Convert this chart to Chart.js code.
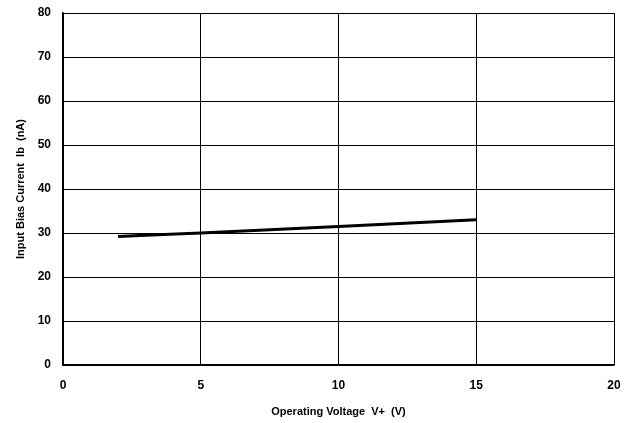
<!DOCTYPE html>
<html>
<head>
<meta charset="utf-8">
<script src="https://cdn.jsdelivr.net/npm/chart.js@4/dist/chart.umd.min.js"></script>
<style>
  html, body { margin: 0; padding: 0; background: #fff; }
  #wrap { width: 630px; height: 423px; }
</style>
</head>
<body>
<div id="wrap"><canvas id="biasChart" width="630" height="423"></canvas></div>
<script>
// operating voltage V+ (V) and input bias current Ib (nA)
const voltage = [2, 3, 5, 10, 15];
const biasCurrent = [29.2, 29.5, 30.0, 31.5, 33.0];

const xTicks = [0, 5, 10, 15, 20];
const yTicks = [0, 10, 20, 30, 40, 50, 60, 70, 80];

const points = voltage.map((v, i) => ({ x: v, y: biasCurrent[i] }));

const ctx = document.getElementById('biasChart').getContext('2d');
new Chart(ctx, {
    type: 'scatter',
    data: {
        datasets: [{
            data: points,
            showLine: true,
            borderColor: '#000',
            borderWidth: 3,
            pointRadius: 0,
            tension: 0
        }]
    },
    options: {
        responsive: false,
        animation: false,
        layout: { padding: { top: 13, right: 16, left: 0, bottom: 0 } },
        plugins: { legend: { display: false }, tooltip: { enabled: false } },
        scales: {
            x: {
                type: 'linear',
                min: 0, max: 20,
                afterBuildTicks: axis => { axis.ticks = xTicks.map(v => ({ value: v })); },
                afterFit: axis => {
                    axis.height = 58;
                    axis.paddingLeft = 0;
                    axis.paddingRight = 0;
                },
                grid: { color: '#000', lineWidth: 1, drawTicks: false },
                border: { color: '#000', width: 1.5 },
                ticks: { color: '#000', padding: 13, font: { family: 'Arial, Liberation Sans', size: 12, weight: 'bold' } },
                title: {
                    display: true,
                    text: 'Operating Voltage  V+  (V)',
                    color: '#000',
                    padding: { top: 3 },
                    font: { family: 'Arial, Liberation Sans', size: 11, weight: 'bold' }
                }
            },
            y: {
                min: 0, max: 80,
                afterBuildTicks: axis => { axis.ticks = yTicks.map(v => ({ value: v })); },
                afterFit: axis => {
                    axis.width = 63;
                    axis.paddingTop = 0;
                    axis.paddingBottom = 0;
                },
                grid: { color: '#000', lineWidth: 1, drawTicks: false },
                border: { color: '#000', width: 1.5 },
                ticks: { color: '#000', padding: 12, font: { family: 'Arial, Liberation Sans', size: 12, weight: 'bold' } },
                title: {
                    display: true,
                    text: 'Input Bias Current  Ib  (nA)',
                    color: '#000',
                    padding: { top: 14, bottom: 4 },
                    font: { family: 'Arial, Liberation Sans', size: 11, weight: 'bold' }
                }
            }
        }
    }
});
</script>
</body>
</html>
